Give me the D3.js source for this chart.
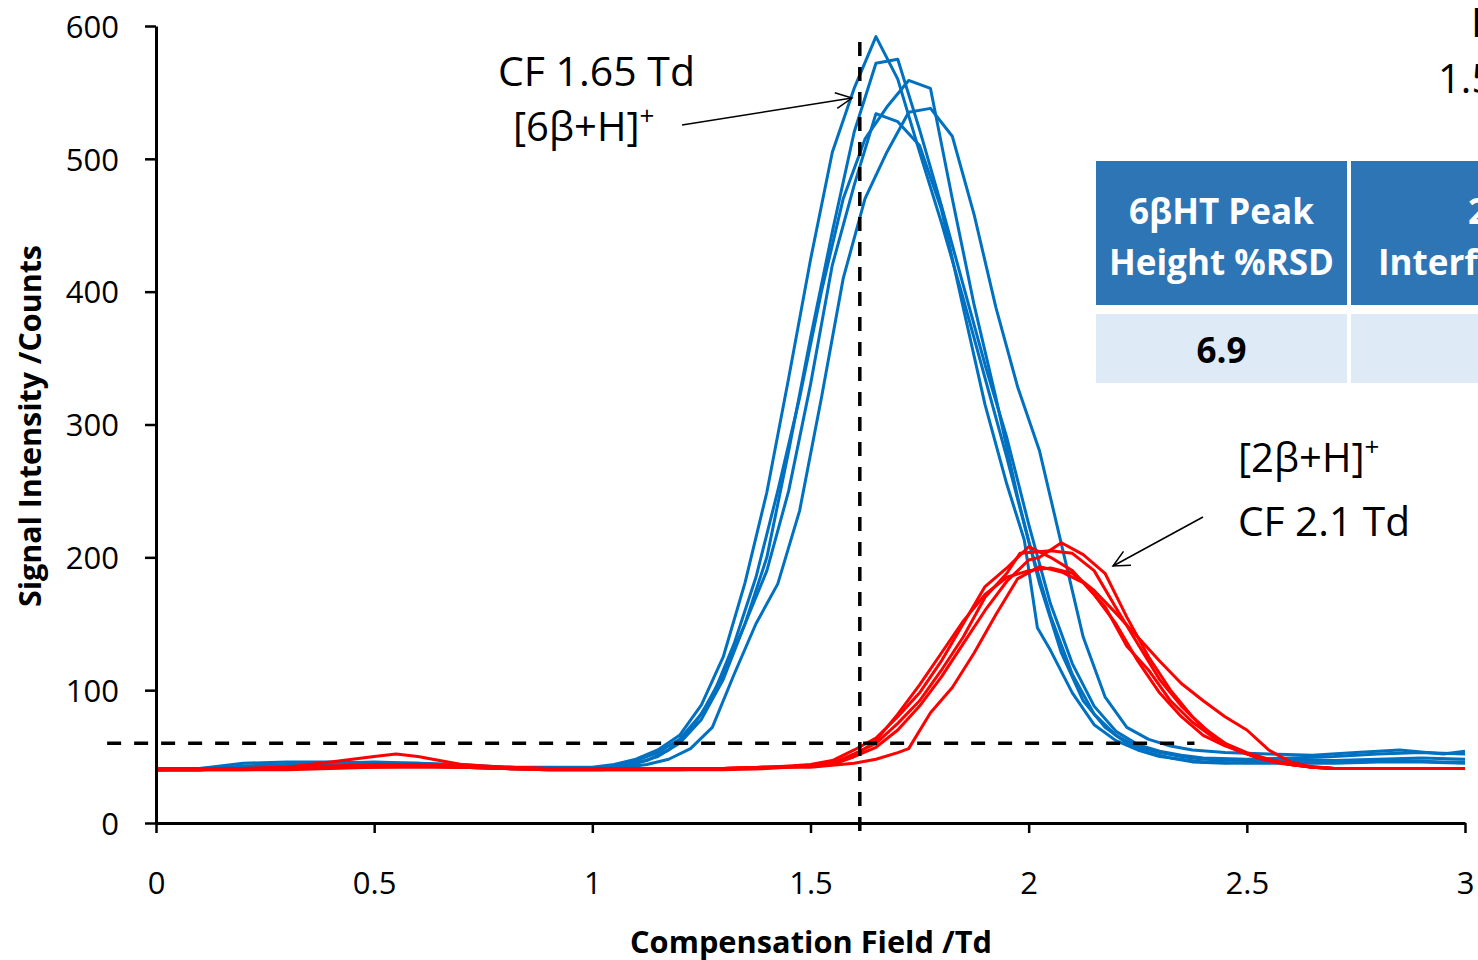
<!DOCTYPE html>
<html>
<head>
<meta charset="utf-8">
<script src="https://cdn.jsdelivr.net/npm/d3@7"></script>
<style>
  body { margin: 0; background: #fff; overflow: hidden; }
  svg { display: block; font-family: "Open Sans", sans-serif; }
</style>
</head>
<body>
<svg id="chart" width="1478" height="960"></svg>
<script>
// tick values / labels
const xTicks = [0, 0.5, 1, 1.5, 2, 2.5, 3];
const xTickLabels = ['0', '0.5', '1', '1.5', '2', '2.5', '3'];
const yTicks = [0, 100, 200, 300, 400, 500, 600];

// 6βHT runs (blue), [CF /Td, counts]
const blueA = [[0,40],[0.1,41],[0.2,45],[0.3,46],[0.4,46],[0.5,45],[0.6,45],[0.7,44],[0.8,42],[0.9,42],[1.0,42],[1.05,44],[1.1,48],[1.15,55],[1.2,66],[1.25,89],[1.3,125],[1.35,181],[1.4,249],[1.45,335],[1.5,424],[1.55,505],[1.6,553],[1.65,592],[1.7,560],[1.75,505],[1.8,452],[1.85,395],[1.9,335],[1.95,275],[2.0,212],[2.05,156],[2.1,112],[2.15,82],[2.2,66],[2.25,57],[2.3,53],[2.35,50],[2.4,48],[2.5,47],[2.6,48],[2.7,47],[2.8,48],[2.9,49],[3.0,48]];
const blueB = [[0,40],[0.1,40],[0.2,43],[0.3,44],[0.4,45],[0.5,46],[0.6,45],[0.7,43],[0.8,41],[0.9,41],[1.0,41],[1.05,43],[1.1,47],[1.15,53],[1.2,63],[1.25,82],[1.3,112],[1.35,150],[1.4,200],[1.45,280],[1.5,365],[1.55,445],[1.6,520],[1.65,572],[1.7,575],[1.75,522],[1.8,465],[1.85,405],[1.9,345],[1.95,290],[2.0,225],[2.05,165],[2.1,120],[2.15,88],[2.2,69],[2.25,59],[2.3,54],[2.35,51],[2.4,49],[2.5,48],[2.6,49],[2.7,50],[2.8,52],[2.9,53],[3.0,52]];
const blueC = [[0,40],[0.1,40],[0.2,42],[0.3,43],[0.4,44],[0.5,44],[0.6,44],[0.7,43],[0.8,41],[0.9,41],[1.025,41],[1.075,43],[1.125,47],[1.175,55],[1.225,70],[1.275,95],[1.325,135],[1.375,185],[1.425,250],[1.475,320],[1.525,400],[1.575,470],[1.625,515],[1.675,539],[1.725,559],[1.775,553],[1.825,470],[1.875,390],[1.925,320],[1.975,245],[2.025,180],[2.075,128],[2.125,92],[2.175,72],[2.225,60],[2.275,53],[2.325,49],[2.375,46],[2.45,45],[2.55,46],[2.65,47],[2.75,46],[2.85,47],[2.95,46],[3.0,46]];
const blueD = [[0,40],[0.1,41],[0.2,42],[0.3,43],[0.4,44],[0.5,44],[0.6,44],[0.7,43],[0.8,42],[0.9,41],[1.0,41],[1.05,42],[1.1,45],[1.15,50],[1.2,60],[1.25,78],[1.3,108],[1.35,150],[1.4,190],[1.45,250],[1.5,330],[1.55,420],[1.6,480],[1.65,534],[1.7,528],[1.75,510],[1.8,462],[1.85,388],[1.9,315],[1.95,255],[1.99,213],[2.02,147],[2.05,130],[2.1,98],[2.15,74],[2.2,62],[2.25,55],[2.3,50],[2.4,46],[2.5,45],[2.6,45],[2.7,45],[2.8,46],[2.9,46],[3.0,45]];
const blueE = [[0,40],[0.1,40],[0.2,42],[0.3,42],[0.4,43],[0.5,43],[0.6,43],[0.7,42],[0.8,41],[0.9,40],[1.025,40],[1.075,42],[1.125,44],[1.175,48],[1.225,56],[1.275,72],[1.325,112],[1.375,150],[1.425,180],[1.475,235],[1.525,320],[1.575,410],[1.625,470],[1.675,505],[1.725,535],[1.775,538],[1.825,517],[1.875,458],[1.925,388],[1.975,328],[2.025,280],[2.075,210],[2.125,140],[2.175,95],[2.225,72],[2.275,63],[2.325,58],[2.375,55],[2.45,53],[2.55,52],[2.65,51],[2.75,53],[2.85,55],[2.95,52],[3.0,54]];

// 2βHT runs (red)
const redA = [[0,40],[0.1,40],[0.2,40],[0.3,41],[0.4,42],[0.5,43],[0.6,43],[0.7,42],[0.8,41],[0.9,40],[1.0,40],[1.1,40],[1.2,40],[1.3,41],[1.4,42],[1.45,43],[1.5,44],[1.55,47],[1.6,55],[1.65,64],[1.7,80],[1.75,98],[1.8,122],[1.85,150],[1.9,178],[1.95,192],[2.0,208],[2.05,200],[2.1,190],[2.15,172],[2.2,150],[2.25,122],[2.3,98],[2.35,80],[2.4,66],[2.45,58],[2.5,52],[2.55,47],[2.6,44],[2.65,42],[2.7,41],[2.8,41],[2.9,41],[3.0,41]];
const redB = [[0,40],[0.1,40],[0.2,41],[0.3,42],[0.4,46],[0.5,50],[0.55,52],[0.6,50],[0.7,44],[0.8,42],[0.9,41],[1.0,41],[1.1,41],[1.2,41],[1.3,41],[1.4,42],[1.5,43],[1.55,45],[1.6,52],[1.65,60],[1.7,75],[1.75,92],[1.8,115],[1.85,140],[1.9,170],[1.95,188],[1.98,203],[2.05,205],[2.1,203],[2.15,190],[2.2,162],[2.25,135],[2.3,108],[2.35,88],[2.4,72],[2.45,60],[2.5,53],[2.55,48],[2.6,44],[2.65,42],[2.7,41],[2.8,41],[2.9,41],[3.0,41]];
const redC = [[0,40],[0.1,40],[0.2,40],[0.3,40],[0.4,41],[0.5,42],[0.6,42],[0.7,42],[0.8,41],[0.9,40],[1.0,40],[1.1,40],[1.2,40],[1.3,40],[1.4,41],[1.5,43],[1.55,44],[1.6,50],[1.65,57],[1.7,70],[1.75,88],[1.8,110],[1.85,135],[1.9,160],[1.95,182],[2.0,198],[2.025,200],[2.075,211],[2.125,202],[2.175,188],[2.225,155],[2.275,125],[2.325,100],[2.375,80],[2.425,65],[2.475,55],[2.525,49],[2.6,44],[2.7,41],[2.8,41],[2.9,41],[3.0,41]];
const redD = [[0,41],[0.1,41],[0.2,41],[0.3,41],[0.4,42],[0.5,42],[0.6,43],[0.7,42],[0.8,41],[0.9,41],[1.0,41],[1.1,41],[1.2,41],[1.3,41],[1.4,42],[1.5,42],[1.6,45],[1.65,48],[1.7,53],[1.725,56],[1.775,83],[1.825,102],[1.875,128],[1.925,157],[1.975,184],[2.025,193],[2.075,189],[2.125,181],[2.175,163],[2.225,133],[2.275,115],[2.325,92],[2.375,76],[2.425,64],[2.475,55],[2.525,49],[2.575,45],[2.65,42],[2.7,41],[2.8,41],[2.9,41],[3.0,41]];
const redE = [[0,40],[0.1,40],[0.2,41],[0.3,42],[0.4,43],[0.5,44],[0.6,44],[0.7,43],[0.8,42],[0.9,41],[1.0,41],[1.1,41],[1.2,41],[1.3,41],[1.4,42],[1.5,43],[1.55,44],[1.6,50],[1.65,62],[1.7,82],[1.75,104],[1.8,128],[1.85,152],[1.9,172],[1.95,185],[2.0,190],[2.05,192],[2.1,188],[2.15,175],[2.2,158],[2.25,140],[2.3,122],[2.35,105],[2.4,92],[2.45,80],[2.5,70],[2.55,55],[2.6,46],[2.65,42],[2.7,41],[2.8,41],[2.9,41],[3.0,41]];

const blueRuns = [blueA, blueB, blueC, blueD, blueE];
const redRuns = [redA, redB, redC, redD, redE];

// reference lines
const cfLine = 1.613;
const thresholdLine = 60;

// table
const tableHeader = [['6βHT Peak', 'Height %RSD'], ['2βHT', 'Interference']];
const tableValues = ['6.9', ''];

let svg = d3.select('#chart');
let x = d3.scaleLinear().domain([0, 3]).range([156, 1465]);
let y = d3.scaleLinear().domain([0, 600]).range([823, 26]);

let line = d3.line().x(d => x(d[0])).y(d => y(d[1]));

// blue traces
svg.append('g').selectAll('path')
  .data(blueRuns)
  .enter()
  .append('path')
    .attr('d', line)
    .attr('fill', 'none')
    .attr('stroke', '#0070C0')
    .attr('stroke-width', 3)
    .attr('stroke-linejoin', 'round');

// red traces on top
svg.append('g').selectAll('path')
  .data(redRuns)
  .enter()
  .append('path')
    .attr('d', line)
    .attr('fill', 'none')
    .attr('stroke', '#FF0000')
    .attr('stroke-width', 3)
    .attr('stroke-linejoin', 'round');

// dashed guide lines
svg.append('line')
  .attr('x1', x(cfLine)).attr('x2', x(cfLine))
  .attr('y1', y(588)).attr('y2', y(-13))
  .attr('stroke', '#000').attr('stroke-width', 3.5)
  .attr('stroke-dasharray', '14 11');
svg.append('line')
  .attr('x1', x(-0.112)).attr('x2', x(2.38))
  .attr('y1', y(thresholdLine)).attr('y2', y(thresholdLine))
  .attr('stroke', '#000').attr('stroke-width', 3.5)
  .attr('stroke-dasharray', '14 13');

// axes
let yAxis = svg.append('g')
  .attr('transform', 'translate(' + x(0) + ',0)')
  .call(d3.axisLeft(y).tickValues(yTicks).tickSize(11).tickPadding(26).tickSizeOuter(0));
let xAxis = svg.append('g')
  .attr('transform', 'translate(0,' + y(0) + ')')
  .call(d3.axisBottom(x).tickValues(xTicks).tickFormat((d, i) => xTickLabels[i]).tickSize(10).tickSizeOuter(0));

[xAxis, yAxis].forEach(a => {
  a.select('.domain').attr('stroke', '#000').attr('stroke-width', 3);
  a.selectAll('.tick line').attr('stroke', '#000').attr('stroke-width', 2.5);
  a.selectAll('.tick text')
    .attr('fill', '#000')
    .style('font-family', '"Open Sans", sans-serif')
    .style('font-size', '31px');
});
yAxis.selectAll('.tick text').attr('dy', '0.36em');
xAxis.selectAll('.tick text').attr('y', 60).attr('dy', '0.36em');

// axis titles
svg.append('text')
  .attr('x', 811).attr('y', 953)
  .attr('text-anchor', 'middle')
  .attr('textLength', 362).attr('lengthAdjust', 'spacingAndGlyphs')
  .style('font-size', '31px').style('font-weight', 'bold')
  .text('Compensation Field /Td');
svg.append('text')
  .attr('transform', 'translate(41,426) rotate(-90)')
  .attr('text-anchor', 'middle')
  .attr('textLength', 362).attr('lengthAdjust', 'spacingAndGlyphs')
  .style('font-size', '31px').style('font-weight', 'bold')
  .text('Signal Intensity /Counts');

// annotations
function label(tx, ty, main, sup) {
  let t = svg.append('text')
    .attr('x', tx).attr('y', ty)
    .style('font-size', '40px').attr('fill', '#000');
  t.append('tspan').text(main);
  if (sup) {
    t.append('tspan').attr('dy', -16).style('font-size', '26px').text(sup);
  }
  return t;
}
label(498, 86, 'CF 1.65 Td').attr('textLength', 197).attr('lengthAdjust', 'spacingAndGlyphs');
label(513, 141, '[6β+H]', '+');
label(1238, 472, '[2β+H]', '+');
label(1238, 536, 'CF 2.1 Td').attr('textLength', 172).attr('lengthAdjust', 'spacingAndGlyphs');

// arrows (open heads)
function arrow(x1, y1, x2, y2) {
  svg.append('line')
    .attr('x1', x1).attr('y1', y1).attr('x2', x2).attr('y2', y2)
    .attr('stroke', '#000').attr('stroke-width', 1.5);
  let ang = Math.atan2(y2 - y1, x2 - x1);
  let len = 18, spread = 0.45;
  let p1 = [x2 - len * Math.cos(ang - spread), y2 - len * Math.sin(ang - spread)];
  let p2 = [x2 - len * Math.cos(ang + spread), y2 - len * Math.sin(ang + spread)];
  svg.append('path')
    .attr('d', 'M' + p1 + 'L' + [x2, y2] + 'L' + p2)
    .attr('fill', 'none').attr('stroke', '#000').attr('stroke-width', 1.5);
}
arrow(682, 125, 852, 98);
arrow(1203, 517, 1113, 566);

// top-right text, cut by the right edge as in the original slide
svg.append('text').attr('x', 1471).attr('y', 37).style('font-size', '40px').text('I');
svg.append('text').attr('x', 1438).attr('y', 93).style('font-size', '40px').text('1.5 Td');

// table
let table = svg.append('g');
let colX = [1096, 1351];
let colW = 251;
tableHeader.forEach((lines, i) => {
  table.append('rect')
    .attr('x', colX[i]).attr('y', 161).attr('width', colW).attr('height', 144)
    .attr('fill', '#2E75B6');
  table.append('rect')
    .attr('x', colX[i]).attr('y', 314).attr('width', colW).attr('height', 69)
    .attr('fill', '#DEEAF6');
  lines.forEach((s, j) => {
    table.append('text')
      .attr('x', i === 0 ? colX[i] + colW / 2 : (j === 0 ? 1468 : 1378))
      .attr('y', 211 + j * 51).attr('dy', '0.36em')
      .attr('text-anchor', i === 0 ? 'middle' : 'start')
      .attr('fill', '#fff')
      .style('font-size', '35px').style('font-weight', 'bold')
      .text(s);
  });
  table.append('text')
    .attr('x', colX[i] + colW / 2).attr('y', 350).attr('dy', '0.36em')
    .attr('text-anchor', 'middle')
    .style('font-size', '35px').style('font-weight', 'bold')
    .text(tableValues[i]);
});
</script>
</body>
</html>
